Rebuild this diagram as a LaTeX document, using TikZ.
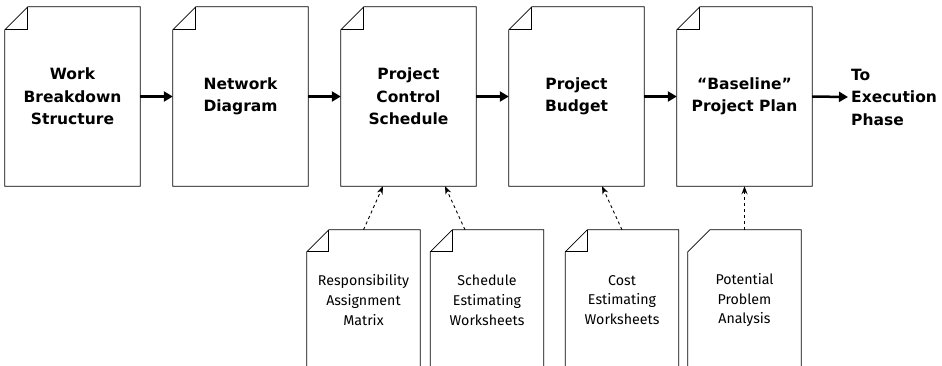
\documentclass[tikz,border=0pt]{standalone}
\usepackage{fontspec}
\setmainfont{Fira Sans}
\newfontfamily\headfont[Ligatures=TeX]{DejaVu Sans}
\usetikzlibrary{arrows.meta,calc}
\tikzset{>={Stealth[length=8pt,width=6pt]}}
\tikzset{
  head/.style={font=\headfont\bfseries\fontsize{15.5}{22.5}\selectfont},
  doc/.style={rectangle, inner sep=0pt, minimum width=135pt,
    minimum height=179pt, align=center, head},
  subdoc/.style={doc, minimum width=113pt, minimum height=140pt,
    font=\fontsize{14.2}{19.8}\selectfont},
  outline/.style={line width=0.8pt, line join=miter},
  flow/.style={-{Triangle[length=9pt,width=10pt]}, line width=2.5pt},
  feed/.style={->, dashed, line width=0.9pt},
}
% document outline with cut corner (#3=1 adds the fold lines)
\newcommand{\docline}[3]{%
  \draw[outline] ($(#1.north west)+(#2,0)$) -- (#1.north east) -- (#1.south east)
    -- (#1.south west) -- ($(#1.north west)+(0,-#2)$) -- cycle;
  \ifnum#3=1
    \draw[outline] ($(#1.north west)+(#2,0)$) |- ($(#1.north west)+(0,-#2)$);
  \fi
}
\begin{document}
\begin{tikzpicture}[x=1pt,y=1pt]
\useasboundingbox (0,0) rectangle (942,-365);
\clip (0,0) rectangle (942,-365);
% planning documents
\node[doc] (wbs) at (72.5,-96.5) {Work\\Breakdown\\Structure};
\node[doc] (net) at (240.5,-96.5) {Network\\Diagram};
\node[doc] (pcs) at (408.5,-96.5) {Project\\Control\\Schedule};
\node[doc] (bud) at (576.5,-96.5) {Project\\Budget};
\node[doc] (plan) at (744.5,-96.5) {“Baseline”\\Project Plan};
\node[head, align=left, anchor=west, inner sep=3pt]
  (exec) at (848,-97) {To\\Execution\\Phase};
% supporting worksheets
\node[subdoc] (ram) at (363.5,-300) {Responsibility\\Assignment\\Matrix};
\node[subdoc] (sew) at (487,-300) {Schedule\\Estimating\\Worksheets};
\node[subdoc] (cew) at (622,-300) {Cost\\Estimating\\Worksheets};
\node[subdoc] (ppa) at (744.5,-300) {Potential\\Problem\\Analysis};
\foreach \d in {wbs,net,pcs,bud,plan} {\docline{\d}{23pt}{1}}
\foreach \d in {ram,sew,cew} {\docline{\d}{22pt}{1}}
\docline{ppa}{22pt}{0}
% main flow
\foreach \a/\b in {wbs/net,net/pcs,pcs/bud,bud/plan}
  \draw[flow] (\a.east) -- (\b.west);
\draw[flow] (plan.east) -- (exec.west);
% inputs
\draw[feed] (ram.north) -- ([xshift=-25.5pt]pcs.south);
\draw[feed] ([xshift=-22pt]sew.north) -- ([xshift=36.5pt]pcs.south);
\draw[feed] (cew.north) -- ([xshift=25.5pt]bud.south);
\draw[feed, line width=1.6pt] (ppa.north) -- (plan.south);
\end{tikzpicture}
\end{document}
